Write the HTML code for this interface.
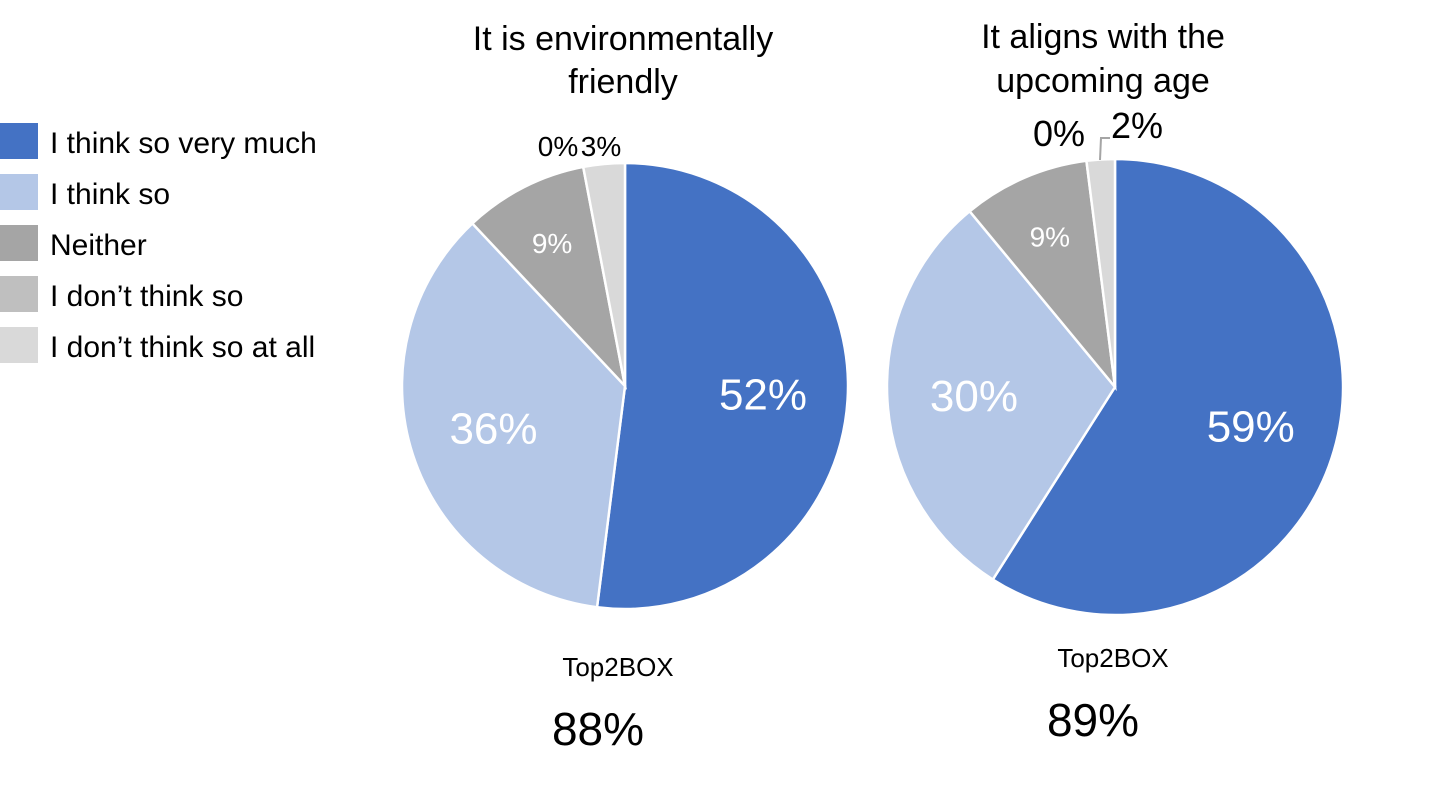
<!DOCTYPE html>
<html><head><meta charset="utf-8"><style>
body{margin:0;background:#fff;width:1447px;height:790px;overflow:hidden;font-family:"Liberation Sans",sans-serif}
</style></head><body>
<svg id="chart" width="1447" height="790" xmlns="http://www.w3.org/2000/svg" font-family="Liberation Sans, sans-serif">
<g id="legend"></g>
<g id="pies"></g>
</svg>
<script>
const categories=["I think so very much","I think so","Neither","I don't think so","I don't think so at all"];
const colors=["#4472C4","#B4C7E7","#A5A5A5","#BFBFBF","#D9D9D9"];
const titles=[["It is environmentally","friendly"],["It aligns with the","upcoming age"]];
const series1=[52,36,9,0,3];
const series2=[59,30,9,0,2];
const top2=["88%","89%"];
const NS="http://www.w3.org/2000/svg";
function mk(t,a,p){const e=document.createElementNS(NS,t);for(const k in a)e.setAttribute(k,a[k]);p.appendChild(e);return e;}
const leg=document.getElementById('legend');
const legY=[123,174,225,276,327];
categories.forEach((c,i)=>{
  const g=mk('g',{},leg);
  
  
  mk('rect',{x:0,y:legY[i],width:38,height:36,fill:colors[i]},g);
  const t=mk('text',{x:50,y:legY[i]+30,'font-size':30,fill:'#000'},g);t.textContent=c.replace("'","’");
});
const pies=document.getElementById('pies');
const cfg=[{cx:625,cy:386,r:223,data:series1,tx:623,ty:[50,93],bx:618,by1:676,by2:745},
           {cx:1115,cy:387,r:228,data:series2,tx:1103,ty:[48,92],bx:1113,by1:667,by2:736}];
cfg.forEach((p,pi)=>{
  const g=mk('g',{},pies);
  
  
  const tot=p.data.reduce((a,b)=>a+b,0);
  let acc=0;
  const pt=(f,r)=>[p.cx+r*Math.sin(f*2*Math.PI),p.cy-r*Math.cos(f*2*Math.PI)];
  p.data.forEach((v,i)=>{
    const f0=acc/tot,f1=(acc+v)/tot;acc+=v;
    if(v<=0)return;
    const [x0,y0]=pt(f0,p.r),[x1,y1]=pt(f1,p.r);
    const s=mk('path',{d:`M${p.cx},${p.cy}L${x0},${y0}A${p.r},${p.r} 0 ${(f1-f0)>0.5?1:0} 1 ${x1},${y1}Z`,fill:colors[i],stroke:'#fff','stroke-width':2.5},g);
    
    
  });
  // labels
  acc=0;
  p.data.forEach((v,i)=>{
    const fm=(acc+v/2)/tot;acc+=v;
    let x,y,fs,col;
    if(i<2){const q=pt(fm,p.r*0.62);x=q[0];y=q[1]+15;fs=44;col='#fff';}
    else if(i==2){const q=pt(fm,p.r*0.72);x=q[0];y=q[1]+10;fs=28;col='#fff';}
    else if(i==3){x=pi==0?558:1059;y=pi==0?156:146;fs=pi==0?28:36;col='#000';}
    else{x=pi==0?601:1137;y=pi==0?156:138;fs=pi==0?28:36;col='#000';}
    const t=mk('text',{x:x,y:y,'font-size':fs,fill:col,'text-anchor':'middle'},g);
    t.textContent=v+'%';
    
    
  });
  if(pi==1){const l=mk('polyline',{points:'1100,160 1101,138 1110,138',fill:'none',stroke:'#A5A5A5','stroke-width':2},g);
    }
  titles[pi].forEach((s,k)=>{const t=mk('text',{x:p.tx,y:p.ty[k],'font-size':34,'text-anchor':'middle',fill:'#000'},g);t.textContent=s;
    });
  const a=mk('text',{x:p.bx,y:p.by1,'font-size':26,'text-anchor':'middle'},g);a.textContent='Top2BOX';
  
  const b=mk('text',{x:p.bx-20,y:p.by2,'font-size':46,'text-anchor':'middle'},g);b.textContent=top2[pi];
  
});
</script>
</body></html>
